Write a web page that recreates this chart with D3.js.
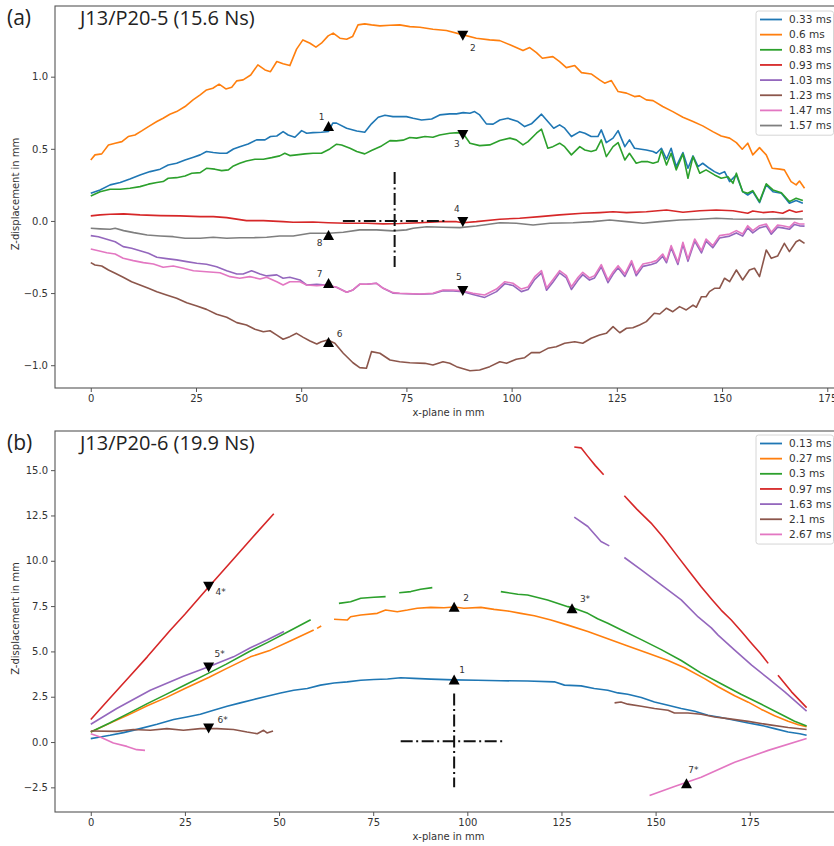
<!DOCTYPE html>
<html><head><meta charset="utf-8">
<script src="https://cdn.jsdelivr.net/npm/d3@7"></script>
<style>body{margin:0;background:#fff}svg{display:block}</style>
</head><body>
<svg id="c" width="834" height="846"></svg>
<script>
// ---------- Panel (a) data : x-plane (mm), Z-displacement (mm) ----------
const xTicksA = [0,25,50,75,100,125,150,175];
const yTicksA = [-1.0,-0.5,0.0,0.5,1.0];
const legendA = ["0.33 ms","0.6 ms","0.83 ms","0.93 ms","1.03 ms","1.23 ms","1.47 ms","1.57 ms"];

const a033 = [[0,0.192],[2.2,0.215],[4.6,0.250],[7.0,0.266],[9.3,0.291],[11.7,0.319],[14.1,0.342],[16.5,0.359],[18.4,0.388],[20.4,0.400],[22.4,0.423],[24.4,0.442],[26.0,0.458],[27.5,0.481],[29.1,0.474],[30.7,0.469],[32.3,0.469],[33.9,0.499],[35.4,0.515],[37.4,0.534],[39.4,0.562],[41.4,0.562],[42.7,0.585],[44.2,0.589],[45.7,0.619],[46.9,0.596],[48.5,0.580],[50.1,0.626],[51.3,0.608],[52.8,0.612],[54.8,0.615],[56.5,0.620],[57.5,0.678],[58.4,0.678],[60.8,0.643],[63.2,0.624],[65.1,0.615],[66.7,0.673],[68.3,0.719],[69.9,0.733],[71.8,0.723],[75.0,0.723],[76.6,0.712],[78.6,0.700],[81.0,0.707],[82.9,0.735],[85.3,0.742],[86.9,0.742],[88.5,0.751],[90.1,0.747],[91.2,0.758],[92.4,0.735],[94.0,0.673],[95.6,0.671],[97.2,0.700],[99.1,0.712],[101.5,0.689],[103.1,0.654],[104.7,0.673],[107.1,0.740],[108.6,0.689],[110.0,0.643],[111.4,0.666],[112.6,0.643],[114.2,0.585],[116.2,0.619],[117.4,0.608],[118.9,0.585],[120.5,0.585],[121.3,0.631],[122.5,0.543],[124.1,0.574],[125.3,0.626],[126.9,0.515],[128.0,0.562],[129.2,0.504],[130.8,0.497],[132.0,0.492],[133.6,0.481],[134.4,0.469],[135.6,0.504],[136.8,0.428],[137.9,0.504],[139.1,0.377],[140.7,0.474],[141.9,0.365],[143.1,0.451],[144.3,0.377],[145.4,0.400],[147.0,0.365],[148.2,0.342],[149.4,0.326],[150.6,0.342],[151.8,0.273],[153.4,0.319],[154.9,0.203],[156.1,0.180],[157.3,0.203],[158.9,0.127],[160.5,0.250],[162.1,0.203],[164.1,0.192],[166.0,0.123],[167.6,0.141],[169.2,0.123]];

const a060 = [[0,0.423],[1.0,0.458],[2.6,0.465],[4.2,0.527],[5.8,0.539],[7.4,0.550],[8.9,0.585],[10.5,0.596],[12.1,0.624],[13.7,0.654],[15.7,0.689],[17.2,0.712],[18.8,0.740],[20.4,0.758],[22.4,0.793],[24.3,0.839],[26.0,0.874],[27.5,0.908],[29.0,0.920],[30.5,0.948],[32.1,0.915],[33.5,0.927],[34.7,0.971],[36.2,0.978],[38.0,1.012],[39.7,1.082],[41.4,1.047],[42.7,1.035],[44.2,1.105],[45.7,1.089],[47.3,1.077],[48.9,1.191],[50.4,1.255],[52.1,1.232],[53.5,1.205],[54.8,1.232],[56.4,1.283],[57.6,1.302],[59.2,1.267],[60.8,1.260],[62.2,1.278],[63.5,1.359],[65.1,1.366],[66.7,1.359],[68.7,1.352],[71.1,1.357],[73.4,1.359],[75.8,1.347],[78.2,1.343],[81.3,1.329],[84.5,1.320],[88.5,1.290],[91.6,1.267],[94.8,1.255],[97.2,1.250],[99.6,1.221],[102.7,1.181],[104.3,1.202],[105.9,1.167],[107.3,1.128],[109.8,1.139],[111.4,1.105],[113.0,1.063],[115.0,1.077],[116.6,1.028],[118.9,1.019],[120.9,0.978],[122.1,0.955],[123.7,0.973],[125.3,0.897],[127.3,0.886],[129.2,0.862],[130.4,0.867],[132.0,0.839],[133.6,0.834],[135.9,0.793],[138.3,0.758],[140.7,0.719],[143.1,0.689],[145.4,0.659],[147.8,0.619],[149.8,0.589],[151.8,0.574],[153.4,0.543],[154.8,0.497],[156.1,0.539],[157.3,0.458],[158.9,0.508],[160.5,0.458],[161.9,0.365],[163.7,0.359],[164.8,0.354],[166.4,0.273],[167.6,0.250],[168.4,0.277],[169.6,0.227]];

const a083 = [[0,0.173],[2.2,0.203],[4.6,0.220],[7.0,0.220],[9.3,0.227],[11.7,0.238],[13.7,0.255],[15.7,0.266],[17.2,0.273],[18.4,0.296],[20.4,0.300],[22.4,0.312],[24.0,0.331],[26.0,0.335],[27.5,0.365],[29.5,0.359],[31.1,0.349],[32.7,0.354],[33.9,0.381],[35.4,0.400],[37.0,0.416],[39.0,0.428],[41.0,0.428],[43.0,0.439],[44.9,0.451],[46.1,0.469],[47.3,0.453],[48.9,0.458],[50.9,0.465],[52.8,0.469],[54.8,0.469],[56.8,0.499],[58.4,0.532],[59.6,0.527],[61.6,0.504],[63.2,0.481],[65.1,0.465],[66.7,0.488],[69.1,0.520],[71.1,0.557],[72.6,0.555],[74.2,0.560],[75.8,0.578],[77.4,0.574],[79.4,0.585],[81.3,0.580],[82.9,0.596],[85.3,0.608],[87.3,0.612],[88.4,0.610],[90.1,0.539],[92.4,0.522],[94.8,0.527],[97.2,0.557],[99.6,0.574],[101.1,0.562],[102.7,0.527],[103.9,0.550],[105.9,0.608],[107.1,0.636],[108.6,0.504],[109.8,0.515],[111.4,0.539],[112.6,0.515],[114.2,0.458],[116.2,0.515],[117.4,0.492],[118.9,0.481],[120.1,0.492],[121.3,0.562],[122.5,0.446],[124.1,0.515],[125.3,0.543],[126.9,0.423],[128.0,0.469],[129.6,0.400],[130.8,0.411],[132.4,0.411],[133.6,0.400],[134.8,0.411],[135.6,0.490],[136.8,0.388],[137.9,0.469],[139.1,0.354],[140.7,0.465],[141.9,0.296],[143.1,0.446],[144.7,0.331],[146.2,0.354],[148.2,0.319],[149.8,0.296],[151.4,0.307],[152.6,0.261],[153.4,0.331],[154.9,0.203],[156.1,0.192],[157.3,0.210],[158.9,0.134],[160.5,0.257],[162.1,0.215],[164.1,0.196],[166.0,0.134],[167.6,0.157],[169.2,0.141]];

const a093 = [[0,0.035],[2.2,0.042],[4.6,0.046],[7.8,0.049],[11.7,0.042],[16.5,0.037],[21.2,0.035],[26.0,0.030],[29.1,0.030],[32.3,0.023],[37.0,0.002],[41.0,0.002],[45.7,-0.005],[48.1,-0.009],[52.8,-0.007],[56.4,-0.012],[60.8,-0.016],[65.6,-0.016],[69.5,-0.020],[73.4,-0.018],[78.2,-0.012],[82.9,-0.005],[86.9,-0.005],[88.5,-0.012],[91.6,-0.005],[97.2,0.012],[101.9,0.019],[106.7,0.030],[111.4,0.042],[116.9,0.053],[120.9,0.058],[124.1,0.064],[127.3,0.058],[132.0,0.064],[136.8,0.076],[140.7,0.060],[144.7,0.071],[148.6,0.076],[152.6,0.071],[156.1,0.053],[157.3,0.069],[159.7,0.058],[162.1,0.064],[164.4,0.053],[166.0,0.076],[167.6,0.060],[169.2,0.069]];

const a103 = [[0,-0.102],[1.8,-0.109],[3.8,-0.127],[5.8,-0.144],[7.7,-0.178],[9.7,-0.189],[11.7,-0.206],[13.7,-0.224],[15.7,-0.252],[18.0,-0.261],[20.4,-0.270],[22.8,-0.282],[25.2,-0.293],[27.5,-0.300],[29.9,-0.317],[32.3,-0.345],[34.7,-0.368],[36.2,-0.368],[38.2,-0.345],[40.2,-0.368],[41.8,-0.381],[44.2,-0.374],[45.7,-0.397],[47.3,-0.390],[49.7,-0.409],[51.3,-0.444],[53.7,-0.439],[55.9,-0.444],[58.4,-0.460],[60.8,-0.494],[62.3,-0.478],[63.9,-0.439],[65.5,-0.439],[67.9,-0.432],[69.5,-0.467],[71.8,-0.500],[73.4,-0.503],[78.2,-0.508],[81.3,-0.505],[83.7,-0.483],[86.1,-0.486],[88.5,-0.490],[90.8,-0.510],[93.6,-0.530],[96.4,-0.490],[98.4,-0.435],[100.3,-0.447],[102.3,-0.490],[103.9,-0.475],[105.5,-0.405],[107.1,-0.360],[108.3,-0.480],[109.8,-0.425],[111.4,-0.360],[113.0,-0.395],[114.2,-0.475],[115.8,-0.410],[116.9,-0.372],[118.5,-0.410],[119.7,-0.395],[121.3,-0.318],[122.9,-0.428],[124.1,-0.370],[125.3,-0.325],[126.9,-0.385],[128.5,-0.290],[129.6,-0.380],[131.2,-0.315],[133.2,-0.302],[134.4,-0.290],[135.9,-0.245],[136.8,-0.290],[137.9,-0.186],[139.5,-0.302],[140.7,-0.163],[141.9,-0.280],[143.5,-0.140],[145.1,-0.222],[146.2,-0.140],[147.8,-0.186],[149.4,-0.118],[151.8,-0.105],[153.4,-0.083],[154.9,-0.105],[156.1,-0.048],[157.3,-0.083],[158.9,-0.048],[160.5,-0.036],[161.7,-0.092],[163.2,-0.043],[164.4,-0.048],[166.0,-0.058],[167.2,-0.024],[168.4,-0.034],[169.6,-0.036]];

const a123 = [[0,-0.289],[1.0,-0.305],[2.6,-0.312],[4.2,-0.340],[5.8,-0.363],[7.7,-0.390],[9.7,-0.421],[11.7,-0.444],[13.7,-0.467],[15.7,-0.490],[18.0,-0.513],[20.4,-0.536],[22.8,-0.567],[25.2,-0.590],[27.5,-0.613],[29.9,-0.647],[32.3,-0.668],[34.7,-0.705],[37.0,-0.721],[39.0,-0.751],[41.0,-0.768],[42.6,-0.761],[44.2,-0.791],[45.7,-0.820],[47.3,-0.802],[48.9,-0.779],[50.5,-0.807],[52.1,-0.832],[53.7,-0.853],[54.8,-0.837],[56.3,-0.825],[58.0,-0.848],[60.0,-0.917],[62.3,-0.983],[63.9,-1.017],[65.5,-1.021],[66.7,-0.906],[68.7,-0.917],[71.1,-0.964],[73.4,-0.976],[75.8,-0.983],[79.4,-0.987],[81.3,-0.999],[83.7,-0.976],[85.3,-0.987],[86.9,-1.010],[90.1,-1.038],[92.4,-1.033],[94.8,-1.010],[97.2,-0.976],[98.8,-0.987],[101.1,-0.959],[103.1,-0.948],[104.7,-0.913],[106.7,-0.913],[108.6,-0.883],[110.6,-0.872],[112.6,-0.848],[115.0,-0.837],[116.9,-0.848],[118.9,-0.813],[120.9,-0.791],[122.5,-0.779],[124.1,-0.733],[125.7,-0.775],[127.3,-0.744],[128.8,-0.740],[130.4,-0.721],[132.0,-0.698],[133.9,-0.640],[135.2,-0.645],[136.8,-0.605],[138.3,-0.629],[139.9,-0.594],[141.5,-0.617],[143.1,-0.583],[143.9,-0.598],[145.1,-0.525],[146.2,-0.525],[147.0,-0.490],[148.2,-0.467],[149.4,-0.467],[150.6,-0.397],[151.8,-0.421],[153.4,-0.340],[154.9,-0.409],[156.5,-0.340],[157.7,-0.328],[158.9,-0.386],[160.5,-0.201],[161.7,-0.259],[163.2,-0.243],[164.8,-0.155],[166.0,-0.213],[167.6,-0.144],[168.4,-0.132],[169.6,-0.155]];

const a147 = [[0,-0.194],[1.8,-0.206],[3.8,-0.220],[5.8,-0.229],[7.7,-0.259],[10.1,-0.275],[12.5,-0.289],[14.9,-0.298],[17.2,-0.321],[19.6,-0.312],[22.0,-0.328],[24.4,-0.345],[27.5,-0.352],[30.7,-0.359],[33.1,-0.386],[35.4,-0.397],[37.8,-0.386],[40.2,-0.402],[41.8,-0.390],[44.2,-0.421],[45.7,-0.444],[47.3,-0.421],[49.7,-0.421],[51.3,-0.444],[53.7,-0.449],[55.9,-0.444],[58.4,-0.460],[60.8,-0.494],[62.3,-0.478],[63.9,-0.437],[65.5,-0.439],[67.9,-0.432],[69.5,-0.467],[71.8,-0.497],[73.4,-0.501],[78.2,-0.506],[81.3,-0.501],[83.7,-0.479],[86.1,-0.479],[88.5,-0.485],[90.8,-0.501],[93.6,-0.513],[96.4,-0.472],[98.4,-0.421],[100.3,-0.432],[102.3,-0.472],[103.9,-0.458],[105.5,-0.386],[107.1,-0.345],[108.3,-0.465],[109.8,-0.407],[111.4,-0.345],[113.0,-0.379],[114.2,-0.456],[115.8,-0.390],[116.9,-0.356],[118.5,-0.395],[119.7,-0.379],[121.3,-0.303],[122.9,-0.409],[124.1,-0.354],[125.3,-0.310],[126.9,-0.368],[128.5,-0.275],[129.6,-0.363],[131.2,-0.298],[133.2,-0.286],[134.4,-0.275],[135.9,-0.229],[136.8,-0.275],[137.9,-0.171],[139.5,-0.286],[140.7,-0.148],[141.9,-0.264],[143.5,-0.125],[145.1,-0.206],[146.2,-0.125],[147.8,-0.171],[149.4,-0.102],[151.8,-0.090],[153.4,-0.067],[154.9,-0.090],[156.1,-0.033],[157.3,-0.067],[158.9,-0.033],[160.5,-0.021],[161.7,-0.078],[163.2,-0.028],[164.4,-0.033],[166.0,-0.044],[167.2,-0.009],[168.4,-0.021],[169.6,-0.021]];

const a157 = [[0,-0.051],[2.2,-0.055],[4.6,-0.058],[5.8,-0.051],[7.8,-0.067],[10.2,-0.081],[13.4,-0.097],[16.5,-0.104],[19.6,-0.109],[22.4,-0.120],[26.0,-0.120],[29.1,-0.113],[32.3,-0.120],[35.4,-0.116],[38.6,-0.116],[41.8,-0.113],[44.9,-0.104],[48.1,-0.104],[52.1,-0.085],[56.5,-0.085],[60.0,-0.078],[63.9,-0.062],[67.9,-0.062],[71.8,-0.069],[75.0,-0.062],[76.6,-0.051],[79.8,-0.040],[83.7,-0.044],[87.7,-0.046],[91.6,-0.035],[97.2,-0.012],[101.1,-0.016],[105.1,-0.028],[109.1,-0.016],[114.6,-0.012],[119.3,-0.005],[123.3,0.007],[127.3,-0.005],[131.2,-0.016],[135.2,-0.005],[139.9,0.007],[144.7,0.012],[148.6,0.019],[152.6,0.014],[156.5,0.012],[160.5,0.014],[164.4,0.016],[169.2,0.014]];

const markersA = [
  {label:"1", x:56.5, y:0.659, dir:"up"},
  {label:"2", x:88.4, y:1.283, dir:"down"},
  {label:"3", x:88.4, y:0.596, dir:"down"},
  {label:"4", x:88.4, y:-0.007, dir:"down"},
  {label:"5", x:88.4, y:-0.485, dir:"down"},
  {label:"6", x:56.5, y:-0.839, dir:"up"},
  {label:"7", x:56.5, y:-0.430, dir:"up"},
  {label:"8", x:56.5, y:-0.097, dir:"up"}
];
const crossA = {cx:72.2, cy:0.0, x0:59.9, x1:84.4, y0:-0.32, y1:0.34};

// ---------- Panel (b) data ----------
const xTicksB = [0,25,50,75,100,125,150,175];
const yTicksB = [-2.5,0.0,2.5,5.0,7.5,10.0,12.5,15.0];
const legendB = ["0.13 ms","0.27 ms","0.3 ms","0.97 ms","1.63 ms","2.1 ms","2.67 ms"];

const b013 = [[0,0.19],[2.5,0.28],[5.1,0.37],[8.7,0.52],[13.1,0.74],[17.6,0.98],[22.0,1.24],[25.5,1.38],[29.1,1.53],[32.6,1.75],[36.2,1.97],[39.7,2.16],[43.3,2.35],[46.8,2.53],[50.4,2.71],[53.9,2.86],[57.5,2.95],[61.0,3.14],[64.6,3.26],[68.1,3.32],[71.7,3.41],[75.2,3.45],[78.8,3.48],[82.3,3.55],[85.8,3.51],[90.3,3.47],[96.5,3.43],[102.7,3.41],[108.9,3.38],[116.0,3.37],[123.1,3.32],[125.8,3.14],[130.2,3.10],[133.7,2.95],[137.3,2.86],[140.0,2.71],[142.6,2.64],[146.2,2.46],[149.7,2.21],[153.3,2.03],[156.8,1.85],[160.4,1.70],[163.9,1.48],[167.4,1.35],[171.0,1.20],[174.6,1.05],[178.1,0.92],[181.6,0.74],[185.2,0.55],[188.3,0.46],[190.1,0.37]];

const b027 = [[0,0.55],[5,1.03],[10,1.50],[15,2.00],[20,2.45],[25,2.95],[31.3,3.56],[36,4.05],[42.4,4.70],[47.7,5.07],[53.1,5.59],[59.2,6.18],null,[60.1,6.27],[61.2,6.40],null,[64.6,6.77],[68.1,6.73],[69.0,6.91],[71.7,7.01],[76.1,7.10],[78.3,7.28],[81.4,7.19],[84.1,7.28],[86.7,7.38],[90.3,7.43],[93.8,7.41],[96.5,7.45],[99.1,7.38],[103.6,7.43],[107.1,7.32],[110.7,7.23],[114.2,7.10],[117.8,6.97],[122.2,6.73],[126.7,6.45],[132.0,6.10],[137.3,5.70],[142.6,5.30],[148.0,4.90],[153.3,4.50],[157.7,4.10],[163.0,3.50],[166.6,3.05],[171.0,2.55],[174.6,2.20],[178.1,1.80],[181.6,1.45],[185.2,1.15],[187.9,0.95],[190.1,0.85]];

const b030 = [[0,0.55],[5,1.05],[10,1.58],[15,2.12],[20,2.63],[25,3.15],[31.3,3.80],[36,4.30],[42,4.98],[47,5.50],[53,6.15],[58.4,6.75],null,[65.9,7.65],[69.0,7.74],[71.7,7.93],[75.2,7.99],[78.3,8.02],null,[81.9,8.24],[85.0,8.30],[87.6,8.43],[90.7,8.52],null,[108.9,8.30],[113.4,8.15],[116.0,8.11],[121.3,7.84],[126.7,7.47],[127.8,7.42],[132.0,7.10],[134.6,6.80],[137.3,6.55],[140.8,6.20],[146.2,5.65],[151.5,5.10],[156.8,4.50],[162.1,3.80],[167.4,3.22],[172.8,2.62],[178.1,2.08],[183.4,1.52],[186.9,1.15],[190.1,0.88]];

const b097 = [[0,1.24],[5,2.40],[10,3.55],[15,4.70],[21.1,6.17],[25,7.05],[31.3,8.55],[37.9,10.10],[43,11.30],[48.6,12.59],null,[128.4,16.28],[130.2,16.23],[132.0,15.76],[134.0,15.25],[136.2,14.75],null,[141.7,13.59],[145.0,12.85],[148.8,12.08],[152.0,11.30],[155.9,10.23],[159.0,9.40],[162.1,8.57],[165.0,7.85],[167.4,7.28],[170.1,6.73],[172.8,6.10],[175.5,5.44],[177.8,4.90],[179.9,4.34],null,[182.5,3.69],[186.1,2.77],[190.1,1.90]];

const b163 = [[0,0.98],[6.9,1.85],[15.8,2.86],[24.6,3.63],[31.3,4.15],[37.9,4.70],[42.4,5.20],[46.8,5.63],[51.3,6.10],null,[128.4,12.41],[132.0,11.89],[135.5,11.06],[137.7,10.82],null,[141.7,10.18],[146.2,9.50],[151.5,8.67],[156.8,7.84],[161.3,6.90],[164.8,6.30],[166.6,5.90],[171.0,5.07],[175.5,4.24],[179.9,3.51],[184.3,2.77],[190.1,1.71]];

const b210 = [[0,0.61],[6.9,0.59],[11.3,0.69],[15.8,0.65],[20.2,0.74],[24.6,0.65],[29.1,0.74],[33.5,0.74],[37.9,0.69],[41.5,0.55],[44.2,0.46],[45.9,0.65],[46.8,0.50],[48.4,0.61],null,[139.1,2.16],[140.8,2.21],[142.6,2.09],[146.2,1.97],[149.7,1.85],[153.3,1.75],[155.0,1.60],[158.6,1.60],[162.1,1.53],[165.7,1.38],[169.2,1.29],[174.6,1.14],[179.9,0.96],[185.2,0.80],[190.1,0.69]];

const b267 = [[0,0.46],[2.5,0.28],[6.0,-0.05],[9.6,-0.24],[12.2,-0.42],[14.4,-0.46],null,[148.4,-2.95],[155,-2.45],[162.1,-1.94],[171.0,-1.11],[179.9,-0.46],[190.1,0.19]];

const markersB = [
  {label:"1", x:96.5, y:3.45, dir:"up"},
  {label:"2", x:96.5, y:7.47, dir:"up"},
  {label:"3*", x:127.8, y:7.38, dir:"up"},
  {label:"4*", x:31.3, y:8.57, dir:"down"},
  {label:"5*", x:31.3, y:4.11, dir:"down"},
  {label:"6*", x:31.3, y:0.74, dir:"down"},
  {label:"7*", x:158.2, y:-2.27, dir:"up"}
];
const crossB = {cx:96.5, cy:0.05, x0:82.3, x1:109.8, y0:-2.49, y1:2.68};

// ---------- styling ----------
const colors = ["#1f77b4","#ff7f0e","#2ca02c","#d62728","#9467bd","#8c564b","#e377c2","#7f7f7f"];
const labelOffsets = {
  a: {"1":[-7,-9],"2":[10,12],"3":[-6,9],"4":[-6,-13],"5":[-4,-14],"6":[11,-8],"7":[-9,-9],"8":[-9,8]},
  b: {"1":[8,-10],"2":[12,-9],"3*":[13,-10],"4*":[12,5],"5*":[11,-14],"6*":[14,-9],"7*":[7,-14]}
};

const svg = d3.select("#c");
const FONT = "DejaVu Sans, sans-serif";

function panel(cfg){
  const g = svg.append("g");
  const x = d3.scaleLinear().domain(cfg.xDom).range([55, 842]);
  const y = d3.scaleLinear().domain(cfg.yDom).range([cfg.bottom, cfg.top]);

  const cid = "clip" + cfg.key;
  svg.append("clipPath").attr("id", cid).append("rect")
    .attr("x", 55).attr("y", cfg.top).attr("width", 787).attr("height", cfg.bottom - cfg.top);

  const xa = g.append("g").attr("transform", `translate(0,${cfg.bottom})`)
    .call(d3.axisBottom(x).tickValues(cfg.xTicks).tickSize(4).tickSizeOuter(0).tickPadding(3).tickFormat(d3.format("d")));
  const ya = g.append("g").attr("transform", `translate(55,0)`)
    .call(d3.axisLeft(y).tickValues(cfg.yTicks).tickSize(4).tickSizeOuter(0).tickPadding(3).tickFormat(d3.format(".1f")));
  [xa, ya].forEach(a => {
    a.select(".domain").remove();
    a.selectAll(".tick line").attr("stroke", "#555");
    a.selectAll(".tick text").attr("font-family", FONT).attr("font-size", 10).attr("fill", "#333");
  });
  g.append("rect").attr("x", 55).attr("y", cfg.top).attr("width", 787).attr("height", cfg.bottom - cfg.top)
    .attr("fill", "none").attr("stroke", "#555").attr("stroke-width", 1.1);

  g.append("text").attr("x", (55 + 842) / 2).attr("y", cfg.bottom + 28).attr("text-anchor", "middle")
    .attr("font-family", FONT).attr("font-size", 10).attr("fill", "#333").text("x-plane in mm");
  g.append("text").attr("transform", `translate(19,${(cfg.top + cfg.bottom) / 2 - 3}) rotate(-90)`).attr("text-anchor", "middle")
    .attr("font-family", FONT).attr("font-size", 10).attr("fill", "#333").text("Z-displacement in mm");

  const line = d3.line().defined(d => d !== null).x(d => x(d[0])).y(d => y(d[1]));
  const lg = g.append("g").attr("clip-path", `url(#${cid})`);
  cfg.series.forEach((s, i) => {
    lg.append("path").datum(s).attr("d", line).attr("fill", "none")
      .attr("stroke", colors[i]).attr("stroke-width", 1.6).attr("stroke-linejoin", "round");
  });

  const c = cfg.cross;
  const cg = g.append("g").attr("stroke", "#111").attr("stroke-width", 2).attr("stroke-dasharray", "12,3.5,2,3.5");
  cg.append("line").attr("x1", x(c.x0)).attr("x2", x(c.x1)).attr("y1", y(c.cy)).attr("y2", y(c.cy));
  cg.append("line").attr("x1", x(c.cx)).attr("x2", x(c.cx)).attr("y1", y(c.y1)).attr("y2", y(c.y0));

  cfg.markers.forEach(m => {
    const px = x(m.x), py = y(m.y);
    const w = 5.5, h = 5;
    const d = m.dir === "up"
      ? `M${px},${py - h}L${px + w},${py + h}L${px - w},${py + h}Z`
      : `M${px},${py + h}L${px + w},${py - h}L${px - w},${py - h}Z`;
    g.append("path").attr("d", d).attr("fill", "#000");
    const o = labelOffsets[cfg.key][m.label];
    g.append("text").attr("x", px + o[0]).attr("y", py + o[1] + 3.5).attr("text-anchor", "middle")
      .attr("font-family", FONT).attr("font-size", 9).attr("fill", "#333").text(m.label);
  });

  const L = cfg.legend;
  const lgd = g.append("g");
  lgd.append("rect").attr("x", 756).attr("y", cfg.legTop).attr("width", 77.5).attr("height", L.length * 15.15 + 3)
    .attr("rx", 2.5).attr("fill", "#fff").attr("fill-opacity", 0.85).attr("stroke", "#d6d6d6").attr("stroke-width", 1);
  L.forEach((t, i) => {
    const yy = cfg.legTop + 8.5 + i * 15.15;
    lgd.append("line").attr("x1", 760).attr("x2", 782).attr("y1", yy).attr("y2", yy)
      .attr("stroke", colors[i]).attr("stroke-width", 1.8);
    lgd.append("text").attr("x", 789).attr("y", yy + 3.6).attr("font-family", FONT).attr("font-size", 10.5)
      .attr("fill", "#333").text(t);
  });

  g.append("text").attr("x", 80).attr("y", cfg.top + 19).attr("font-family", "Open Sans, sans-serif")
    .attr("font-size", 20).attr("fill", "#222").text(cfg.title);
  g.append("text").attr("x", 7).attr("y", cfg.top + 19).attr("font-family", "Open Sans, sans-serif")
    .attr("font-size", 21).attr("fill", "#222").text(cfg.tag);
}

panel({key:"a", xDom:[-8.5,178.5], yDom:[-1.158,1.49], top:6, bottom:388,
  xTicks:xTicksA, yTicks:yTicksA, series:[a033,a060,a083,a093,a103,a123,a147,a157],
  legend:legendA, legTop:11, markers:markersA, cross:crossA, title:"J13/P20-5 (15.6 Ns)", tag:"(a)"});
panel({key:"b", xDom:[-9.5,199.5], yDom:[-3.86,17.16], top:431, bottom:812,
  xTicks:xTicksB, yTicks:yTicksB, series:[b013,b027,b030,b097,b163,b210,b267],
  legend:legendB, legTop:435, markers:markersB, cross:crossB, title:"J13/P20-6 (19.9 Ns)", tag:"(b)"});
</script>
</body></html>
